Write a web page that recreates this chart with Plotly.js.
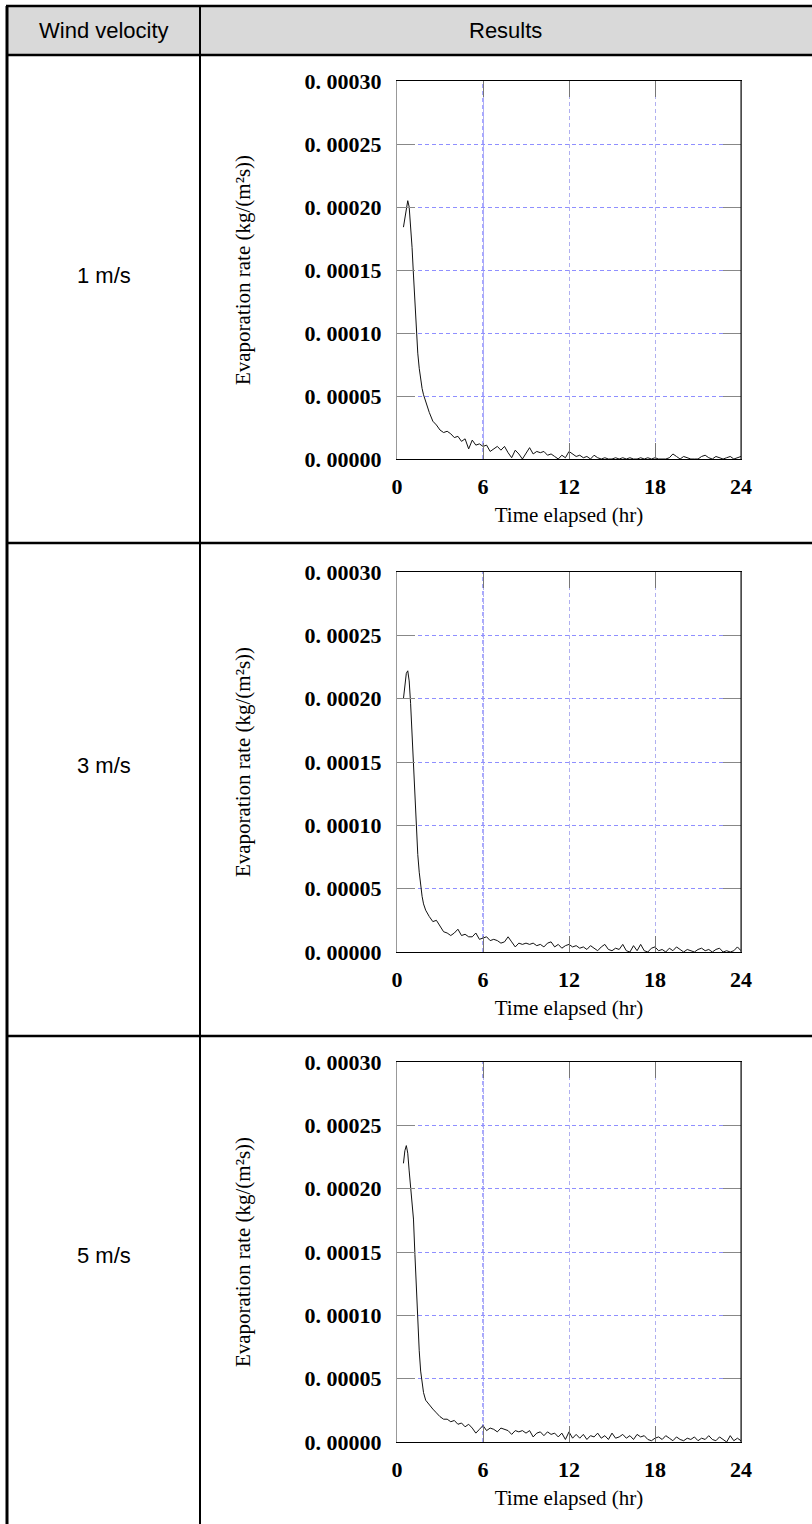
<!DOCTYPE html>
<html><head><meta charset="utf-8">
<script src="https://cdn.plot.ly/plotly-3.0.1.min.js"></script>
<style>html,body{margin:0;padding:0;background:#fff;} #chart{width:812px;height:1524px;}</style>
</head><body><div id="chart"></div>
<script>
// ---- data ----
const hours = [0.45,0.55,0.65,0.75,0.85,0.95,1.05,1.15,1.25,1.35,1.45,1.55,1.65,1.75,1.85,
2.0,2.25,2.5,2.75,3.0,3.25,3.5,3.75,4.0,4.25,4.5,4.75,5.0,5.25,5.5,5.75,6.0,6.25,6.5,6.75,
7.0,7.25,7.5,7.75,8.0,8.25,8.5,8.75,9.0,9.25,9.5,9.75,10.0,10.25,10.5,10.75,11.0,11.25,11.5,11.75,
12.0,12.25,12.5,12.75,13.0,13.25,13.5,13.75,14.0,14.25,14.5,14.75,15.0,15.25,15.5,15.75,
16.0,16.25,16.5,16.75,17.0,17.25,17.5,17.75,18.0,18.25,18.5,18.75,19.0,19.25,19.5,19.75,
20.0,20.25,20.5,20.75,21.0,21.25,21.5,21.75,22.0,22.25,22.5,22.75,23.0,23.25,23.5,23.75,24.0];

const rate1ms = [184e-6,192e-6,200e-6,205e-6,200e-6,185e-6,168e-6,146e-6,122e-6,100e-6,84e-6,72e-6,63e-6,56e-6,51e-6,
45e-6,37e-6,30e-6,27e-6,23e-6,21e-6,22e-6,20e-6,17e-6,18e-6,
14e-6,16e-6,8e-6,15e-6,11e-6,12e-6,10e-6,11e-6,6e-6,8e-6,
10e-6,7e-6,10e-6,5e-6,1e-6,7e-6,4e-6,0,5e-6,9e-6,
4e-6,6e-6,5e-6,6e-6,3e-6,4e-6,2e-6,0,3e-6,1e-6,
6e-6,4e-6,2e-6,3e-6,1e-6,2e-6,0,3e-6,1e-6,0,
1e-6,0,0,1e-6,0,1e-6,0,1e-6,0,0,
1e-6,0,1e-6,0,1e-6,0,0,0,1e-6,4e-6,
2e-6,0,2e-6,1e-6,0,0,0,2e-6,3e-6,1e-6,
0,2e-6,1e-6,0,1e-6,2e-6,0,1e-6,2e-6];

const rate3ms = [200e-6,212e-6,220e-6,222e-6,214e-6,196e-6,172e-6,145e-6,118e-6,95e-6,77e-6,63e-6,52e-6,44e-6,38e-6,
33e-6,28e-6,24e-6,25e-6,21e-6,16e-6,15e-6,13e-6,15e-6,18e-6,
13e-6,14e-6,12e-6,12e-6,15e-6,10e-6,11e-6,12e-6,9e-6,10e-6,
9e-6,7e-6,8e-6,12e-6,8e-6,4e-6,7e-6,6e-6,7e-6,6e-6,
7e-6,5e-6,6e-6,4e-6,7e-6,8e-6,4e-6,6e-6,3e-6,5e-6,
6e-6,4e-6,5e-6,3e-6,4e-6,2e-6,5e-6,3e-6,1e-6,4e-6,
6e-6,2e-6,1e-6,3e-6,2e-6,6e-6,1e-6,0,5e-6,1e-6,
6e-6,1e-6,0,3e-6,4e-6,1e-6,2e-6,0,3e-6,1e-6,
4e-6,2e-6,0,2e-6,1e-6,0,2e-6,3e-6,1e-6,2e-6,
0,2e-6,3e-6,0,1e-6,0,1e-6,4e-6,1e-6];

const rate5ms = [220e-6,230e-6,234e-6,228e-6,214e-6,200e-6,190e-6,176e-6,148e-6,118e-6,92e-6,72e-6,56e-6,45e-6,39e-6,
33e-6,29e-6,26e-6,23e-6,20e-6,18e-6,18e-6,16e-6,17e-6,14e-6,
15e-6,12e-6,14e-6,11e-6,7e-6,10e-6,13e-6,9e-6,11e-6,10e-6,
8e-6,11e-6,10e-6,9e-6,6e-6,9e-6,8e-6,9e-6,7e-6,9e-6,
4e-6,7e-6,8e-6,5e-6,8e-6,6e-6,7e-6,4e-6,7e-6,2e-6,
8e-6,3e-6,6e-6,3e-6,6e-6,2e-6,5e-6,4e-6,7e-6,3e-6,
5e-6,2e-6,7e-6,3e-6,4e-6,6e-6,3e-6,5e-6,2e-6,6e-6,
4e-6,5e-6,2e-6,1e-6,3e-6,4e-6,2e-6,5e-6,3e-6,1e-6,
4e-6,2e-6,1e-6,3e-6,2e-6,4e-6,1e-6,3e-6,2e-6,5e-6,
2e-6,1e-6,4e-6,2e-6,0,5e-6,1e-6,3e-6,1e-6];

const windLabels = ['1 m/s','3 m/s','5 m/s'];
const headerLabels = ['Wind velocity','Results'];
const xTitle = 'Time elapsed (hr)';
const yTitle = 'Evaporation rate (kg/(m²s))';
const xTickVals = [0,6,12,18,24];
const xTickText = ['0','6','12','18','24'];
const yTickVals = [0,0.00005,0.0001,0.00015,0.0002,0.00025,0.0003];
const yTickText = ['0. 00000','0. 00005','0. 00010','0. 00015','0. 00020','0. 00025','0. 00030'];

// ---- layout geometry (pixels) ----
const W = 812, H = 1524;
const px = v => v / W;
const py = v => 1 - v / H;
const plotLeft = 397, plotRight = 741;
const plotBoxes = [{top:81,bottom:459},{top:572,bottom:952},{top:1062,bottom:1442}];
const labelY = [275, 765, 1255];
const rowLines = [6, 55, 543, 1036];
const colLeft = 7, colDiv = 200;

const series = [rate1ms, rate3ms, rate5ms];
const serif = 'Liberation Serif, Times New Roman, serif';
const sans = 'Liberation Sans, Arial, sans-serif';

const traces = [];
const layout = {
  width: W, height: H,
  margin: {l:0, r:0, t:0, b:0},
  paper_bgcolor: '#fff', plot_bgcolor: '#fff',
  showlegend: false,
  shapes: [], annotations: []
};

// table
layout.shapes.push({type:'rect', xref:'paper', yref:'paper', x0:px(colLeft), x1:1, y0:py(rowLines[1]), y1:py(rowLines[0]),
  fillcolor:'#d9d9d9', line:{width:0}, layer:'below'});
rowLines.forEach(y => layout.shapes.push({type:'line', xref:'paper', yref:'paper', x0:px(colLeft-1), x1:1, y0:py(y), y1:py(y),
  line:{color:'#000', width:2.5}}));
layout.shapes.push({type:'line', xref:'paper', yref:'paper', x0:px(colLeft), x1:px(colLeft), y0:0, y1:py(rowLines[0]), line:{color:'#000', width:3}});
layout.shapes.push({type:'line', xref:'paper', yref:'paper', x0:px(colDiv), x1:px(colDiv), y0:0, y1:py(rowLines[0]), line:{color:'#000', width:2}});

layout.annotations.push({xref:'paper', yref:'paper', x:px((colLeft+colDiv)/2), y:py((rowLines[0]+rowLines[1])/2), text:headerLabels[0],
  showarrow:false, xanchor:'center', yanchor:'middle', font:{family:sans, size:22, color:'#000'}});
layout.annotations.push({xref:'paper', yref:'paper', x:px((colDiv+W)/2), y:py((rowLines[0]+rowLines[1])/2), text:headerLabels[1],
  showarrow:false, xanchor:'center', yanchor:'middle', font:{family:sans, size:22, color:'#000'}});

series.forEach((vals, i) => {
  const n = i === 0 ? '' : String(i+1);
  const box = plotBoxes[i];
  traces.push({x:hours, y:vals, xaxis:'x'+n, yaxis:'y'+n, type:'scatter', mode:'lines',
    line:{color:'#111', width:1}, hoverinfo:'skip'});
  layout['xaxis'+n] = {
    domain:[px(plotLeft), px(plotRight)], anchor:'y'+n, range:[0,24],
    tickmode:'array', tickvals:xTickVals, ticktext:xTickText,
    ticks:'inside', ticklen:16, tickcolor:'#777', tickwidth:1,
    showline:true, linecolor:'#000', linewidth:1, mirror:'ticks',
    showgrid:true, gridcolor:'#b0b0f0', griddash:'4px,3px', gridwidth:1, zeroline:false,
    tickfont:{family:serif, size:22, color:'#000', weight:'bold'}, ticklabelstandoff:8,
    title:{text:xTitle, font:{family:serif, size:21, color:'#000'}, standoff:8},
    fixedrange:true
  };
  layout['yaxis'+n] = {
    domain:[py(box.bottom), py(box.top)], anchor:'x'+n, range:[0,0.0003],
    tickmode:'array', tickvals:yTickVals, ticktext:yTickText,
    ticks:'inside', ticklen:18, tickcolor:'#888', tickwidth:1,
    showline:true, linecolor:'#999', linewidth:1, mirror:'ticks',
    showgrid:true, gridcolor:'#8f8fff', griddash:'4px,3px', gridwidth:1, zeroline:false,
    tickfont:{family:serif, size:22, color:'#000', weight:'bold'}, ticklabelstandoff:10,
    title:{text:yTitle, font:{family:serif, size:21, color:'#000'}, standoff:48},
    fixedrange:true
  };
  // stronger blue gridline at the first interior x tick
  layout.shapes.push({type:'line', xref:'x'+n, yref:'y'+n+' domain', x0:xTickVals[1], x1:xTickVals[1], y0:0, y1:1,
    line:{color:'#5050ff', width:1, dash:'4px,3px'}, layer:'below'});
  // black right border
  layout.shapes.push({type:'line', xref:'x'+n+' domain', yref:'y'+n+' domain', x0:1, x1:1, y0:0, y1:1,
    line:{color:'#000', width:1}});
  layout.annotations.push({xref:'paper', yref:'paper', x:px((colLeft+colDiv)/2), y:py(labelY[i]), text:windLabels[i],
    showarrow:false, xanchor:'center', yanchor:'middle', font:{family:sans, size:22, color:'#000'}});
});

Plotly.newPlot('chart', traces, layout, {staticPlot:true, displayModeBar:false});
</script>
</body></html>
